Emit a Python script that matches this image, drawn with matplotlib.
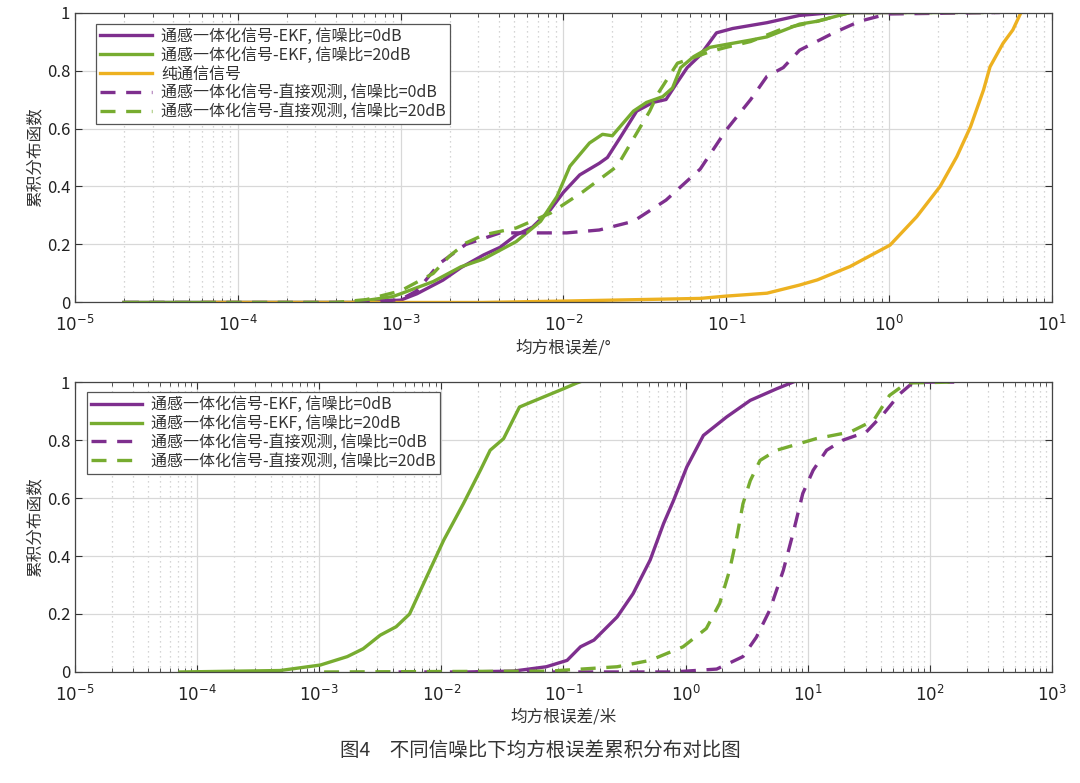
import numpy as np
import matplotlib
matplotlib.use('Agg')
import matplotlib.pyplot as plt
from matplotlib.ticker import LogLocator, NullFormatter

plt.rcParams['font.family'] = ['Noto Sans CJK SC', 'DejaVu Sans']
plt.rcParams['mathtext.fontset'] = 'dejavusans'

# colours (MATLAB-like)
c_purple = '#7E2F8E'
c_green = '#77AC30'
c_orange = '#EDB120'

labels = ['通感一体化信号-EKF, 信噪比=0dB',
          '通感一体化信号-EKF, 信噪比=20dB',
          '纯通信信号',
          '通感一体化信号-直接观测, 信噪比=0dB',
          '通感一体化信号-直接观测, 信噪比=20dB']

y_ticks = [0, 0.2, 0.4, 0.6, 0.8, 1.0]
y_ticklabels = ['0', '0.2', '0.4', '0.6', '0.8', '1']
top_decades = [-5, -4, -3, -2, -1, 0, 1]
bot_decades = [-5, -4, -3, -2, -1, 0, 1, 2, 3]

# ---- top panel (angle RMSE, degrees); x given as log10 exponents ----
top_ekf0_x = [-4.7, -3.3, -3.0, -2.9, -2.74, -2.63, -2.49, -2.39, -2.29, -2.19, -2.08, -2.0,
              -1.9, -1.78, -1.73, -1.65, -1.55, -1.45, -1.37, -1.3, -1.24, -1.16, -1.06,
              -0.96, -0.75, -0.55, -0.34, 0.0]
top_ekf0_y = [0.0, 0.0, 0.008, 0.03, 0.077, 0.12, 0.164, 0.19, 0.233, 0.26, 0.32, 0.38,
              0.44, 0.48, 0.5, 0.57, 0.66, 0.69, 0.7, 0.76, 0.81, 0.853, 0.93,
              0.945, 0.965, 0.99, 1.0, 1.0]

top_ekf20_x = [-4.7, -3.3, -3.05, -3.0, -2.8, -2.63, -2.49, -2.29, -2.14, -2.04, -1.96, -1.84,
               -1.76, -1.7, -1.57, -1.49, -1.39, -1.33, -1.28, -1.2, -1.1, -0.85, -0.75,
               -0.55, -0.44, -0.24, 0.3]
top_ekf20_y = [0.0, 0.0, 0.02, 0.03, 0.072, 0.123, 0.15, 0.21, 0.28, 0.365, 0.47, 0.55,
               0.58, 0.575, 0.66, 0.69, 0.71, 0.74, 0.81, 0.848, 0.88, 0.905, 0.916,
               0.96, 0.97, 1.0, 1.0]

top_comm_x = [-4.2, -2.5, -1.98, -1.16, -1.0, -0.75, -0.55, -0.44, -0.24, 0.006, 0.17, 0.313,
              0.416, 0.5, 0.58, 0.62, 0.7, 0.76, 0.81]
top_comm_y = [0.0, 0.0, 0.005, 0.014, 0.022, 0.032, 0.06, 0.078, 0.124, 0.198, 0.296, 0.4,
              0.503, 0.606, 0.733, 0.813, 0.894, 0.94, 1.0]

top_dir0_x = [-4.7, -3.2, -3.0, -2.9, -2.76, -2.6, -2.39, -2.19, -1.98, -1.78, -1.57, -1.37,
              -1.16, -1.0, -0.85, -0.75, -0.65, -0.55, -0.34, -0.18, -0.01, 0.68]
top_dir0_y = [0.0, 0.0, 0.01, 0.04, 0.135, 0.2, 0.24, 0.24, 0.24, 0.25, 0.28, 0.353,
              0.46, 0.595, 0.70, 0.78, 0.81, 0.87, 0.93, 0.97, 0.995, 1.0]

top_dir20_x = [-4.7, -3.4, -3.21, -3.0, -2.8, -2.7, -2.6, -2.49, -2.29, -2.08, -1.88, -1.67,
               -1.47, -1.42, -1.3, -1.1, -1.0, -0.85, -0.65, -0.44, -0.24, 0.65]
top_dir20_y = [0.0, 0.0, 0.01, 0.04, 0.10, 0.16, 0.205, 0.233, 0.257, 0.308, 0.382, 0.47,
               0.66, 0.72, 0.825, 0.865, 0.88, 0.90, 0.945, 0.97, 1.0, 1.0]

# ---- bottom panel (position RMSE, metres) ----
bot_ekf0_x = [-1.8, -1.41, -1.14, -0.97, -0.86, -0.75, -0.56, -0.43, -0.29, -0.18, -0.10,
              0.01, 0.146, 0.337, 0.53, 0.746, 0.88]
bot_ekf0_y = [0.0, 0.003, 0.018, 0.04, 0.087, 0.11, 0.19, 0.27, 0.386, 0.512, 0.59,
              0.707, 0.816, 0.88, 0.937, 0.977, 1.0]

bot_ekf20_x = [-4.14, -3.32, -2.99, -2.77, -2.64, -2.5, -2.37, -2.26, -2.12, -1.98, -1.82,
               -1.68, -1.6, -1.49, -1.36, -1.27, -1.0, -0.89, -0.87]
bot_ekf20_y = [0.0, 0.005, 0.024, 0.053, 0.08, 0.127, 0.156, 0.20, 0.328, 0.455, 0.58,
               0.696, 0.765, 0.805, 0.914, 0.93, 0.977, 0.997, 1.0]

bot_dir0_x = [-2.35, -0.1, 0.255, 0.47, 0.58, 0.69, 0.8, 0.88, 0.96, 1.045, 1.155, 1.29,
              1.48, 1.62, 1.756, 1.866, 2.2]
bot_dir0_y = [0.0, 0.0, 0.01, 0.053, 0.12, 0.214, 0.35, 0.478, 0.616, 0.696, 0.765, 0.80,
              0.828, 0.89, 0.96, 1.0, 1.0]

bot_dir20_x = [-2.96, -1.11, -0.56, -0.29, -0.02, 0.17, 0.28, 0.36, 0.42, 0.47, 0.53, 0.61,
               0.746, 1.07, 1.35, 1.54, 1.67, 1.81, 2.19]
bot_dir20_y = [0.0, 0.003, 0.018, 0.04, 0.087, 0.15, 0.237, 0.35, 0.466, 0.58, 0.66, 0.73,
               0.765, 0.805, 0.828, 0.868, 0.954, 0.997, 1.0]


def style_axes(ax, decades, xlabel):
    ax.set_xscale('log')
    ax.set_xlim(10.0 ** decades[0], 10.0 ** decades[-1])
    ax.set_ylim(0, 1)
    ax.set_xticks([10.0 ** d for d in decades])
    ax.set_xticklabels(['$10^{%d}$' % d for d in decades])
    ax.xaxis.set_minor_locator(LogLocator(base=10, subs=np.arange(2, 10), numticks=200))
    ax.xaxis.set_minor_formatter(NullFormatter())
    ax.set_yticks(y_ticks)
    ax.set_yticklabels(y_ticklabels)
    ax.grid(True, which='major', color='#d8d8d8', lw=0.9, ls='-')
    ax.grid(True, which='minor', axis='x', color='#c8c8c8', lw=0.9, ls=(0, (1, 3)))
    ax.tick_params(which='both', direction='in', top=True, right=True,
                   labelsize=12, color='#333333', labelcolor='#222222')
    ax.tick_params(which='major', length=5)
    ax.tick_params(which='minor', length=3)
    ax.tick_params(axis='x', pad=9)
    for s in ax.spines.values():
        s.set_color('#444444')
        s.set_linewidth(0.9)
    ax.set_xlabel(xlabel, fontsize=12, color='#333333', labelpad=3)
    ax.set_ylabel('累积分布函数', fontsize=12, color='#333333', labelpad=2)


fig = plt.figure(figsize=(10.8, 7.83), dpi=100)
ax1 = fig.add_axes([0.0694, 0.6137, 0.9046, 0.3703])
ax2 = fig.add_axes([0.0694, 0.1418, 0.9046, 0.3702])

lw = 2.4
dash = (4.5, 3.2)

def ex(v):
    return 10 ** np.array(v)

ax1.plot(ex(top_ekf0_x), top_ekf0_y, color=c_purple, lw=lw, label=labels[0])
ax1.plot(ex(top_ekf20_x), top_ekf20_y, color=c_green, lw=lw, label=labels[1])
ax1.plot(ex(top_comm_x), top_comm_y, color=c_orange, lw=lw, label=labels[2])
ax1.plot(ex(top_dir0_x), top_dir0_y, color=c_purple, lw=lw, dashes=dash, label=labels[3])
ax1.plot(ex(top_dir20_x), top_dir20_y, color=c_green, lw=lw, dashes=dash, label=labels[4])
style_axes(ax1, top_decades, '均方根误差/°')

ax2.plot(ex(bot_ekf0_x), bot_ekf0_y, color=c_purple, lw=lw, label=labels[0])
ax2.plot(ex(bot_ekf20_x), bot_ekf20_y, color=c_green, lw=lw, label=labels[1])
ax2.plot(ex(bot_dir0_x), bot_dir0_y, color=c_purple, lw=lw, dashes=dash, label=labels[3])
ax2.plot(ex(bot_dir20_x), bot_dir20_y, color=c_green, lw=lw, dashes=dash, label=labels[4])
style_axes(ax2, bot_decades, '均方根误差/米')

for ax, anchor in ((ax1, (0.022, 0.962)), (ax2, (0.012, 0.965))):
    leg = ax.legend(loc='upper left', bbox_to_anchor=anchor, fontsize=11.5, frameon=True,
                    fancybox=False, edgecolor='#555555', framealpha=1, borderpad=0.25,
                    labelspacing=0.12, handlelength=3.2, handletextpad=0.6, borderaxespad=0)
    leg.get_frame().set_linewidth(0.9)
    for t in leg.get_texts():
        t.set_color('#333333')

fig.text(0.5, 0.042, '图4　不同信噪比下均方根误差累积分布对比图', ha='center', va='center',
         fontsize=14, color='#333333')

fig.savefig('out.png', dpi=100, facecolor='white')
